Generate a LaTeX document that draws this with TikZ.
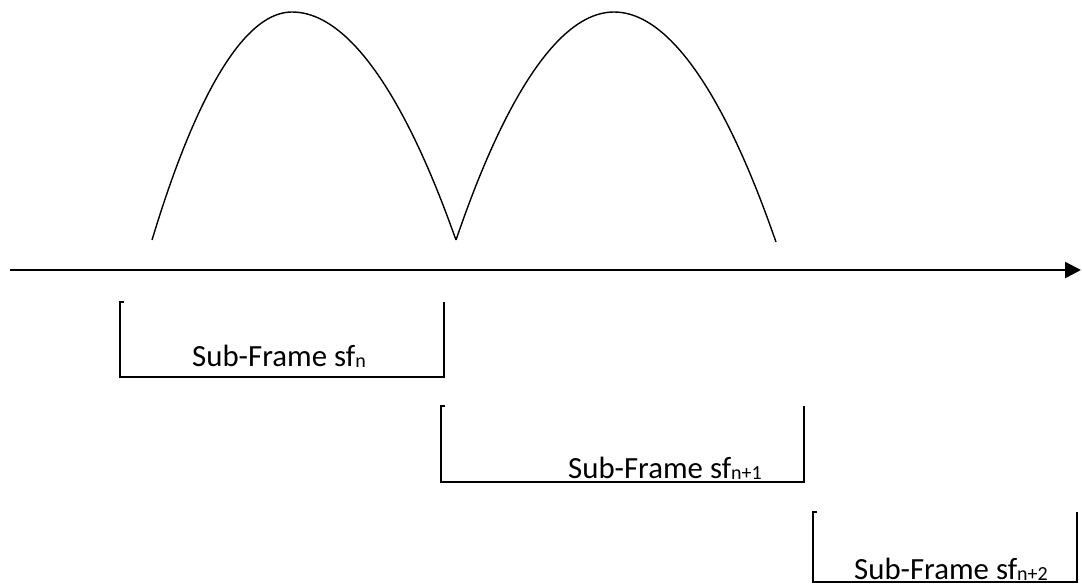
\documentclass[tikz,border=0pt]{standalone}
\usepackage{fontspec}
\setmainfont{Carlito}
\usetikzlibrary{arrows.meta}
\newcommand{\sfidx}[1]{\raisebox{-0.5pt}{\fontsize{10}{10}\selectfont #1}}

\begin{document}
\begin{tikzpicture}[x=0.5pt, y=-0.5pt,
   lbl/.style={anchor=base, font=\fontsize{15.4}{18}\selectfont, inner sep=0pt},
   brk/.style={line width=0.75pt},
   bump/.style={line width=0.7pt}]
  \useasboundingbox (0,0) rectangle (1082,584);
  % time axis
  \coordinate (t0) at (10,270);
  \coordinate (t1) at (1081,270);
  \draw[line width=1.2pt, -{Triangle[length=8pt,width=8pt]}] (t0) -- (t1);
  % pulses
  \coordinate (p0) at (152,240);
  \coordinate (p1) at (456,240);
  \coordinate (p2) at (776,242);
  \draw[bump] (p0) parabola bend (292,12) (p1);
  \draw[bump] (p1) parabola bend (614,12) (p2);
  % sub-frames
  \coordinate (a1) at (120,302); \coordinate (b1) at (444,377);
  \coordinate (a2) at (441,406); \coordinate (b2) at (804,482);
  \coordinate (a3) at (813,512); \coordinate (b3) at (1077,582);
  \foreach \i in {1,2,3} {\draw[brk] ([xshift=2pt]a\i) -- (a\i) |- (b\i) -- (b\i|-a\i);}
  \node[lbl] (s1) at (279,366) {Sub-Frame sf\sfidx{n}};
  \node[lbl] (s2) at (665,478) {Sub-Frame sf\sfidx{n+1}};
  \node[lbl] (s3) at (951,579) {Sub-Frame sf\sfidx{n+2}};
\end{tikzpicture}
\end{document}
